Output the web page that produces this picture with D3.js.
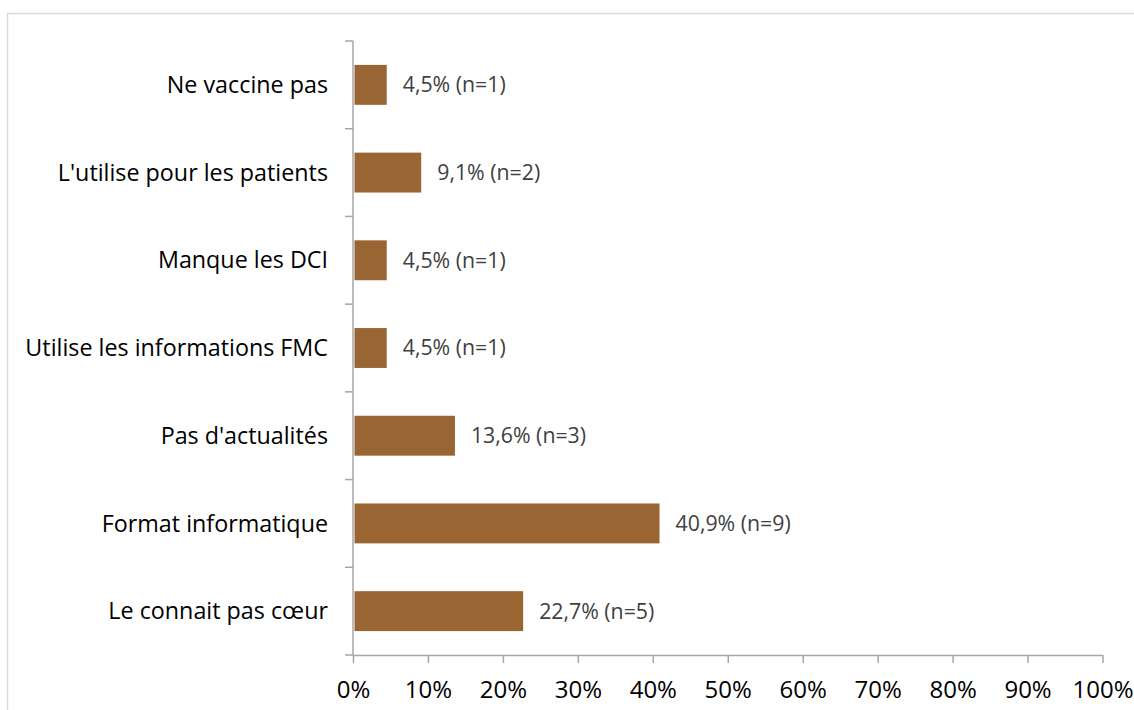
<!DOCTYPE html>
<html>
<head>
<meta charset="utf-8">
<script src="https://cdn.jsdelivr.net/npm/d3@7"></script>
<style>
  html, body { margin: 0; padding: 0; background: #fff; }
  svg { display: block; }
</style>
</head>
<body>
<svg id="chart" width="1134" height="710"></svg>
<script>
// Reasons given, top to bottom
const categories = [
  "Ne vaccine pas",
  "L'utilise pour les patients",
  "Manque les DCI",
  "Utilise les informations FMC",
  "Pas d'actualités",
  "Format informatique",
  "Le connait pas cœur"
];
const percentValues = [4.5, 9.1, 4.5, 4.5, 13.6, 40.9, 22.7];
const counts = [1, 2, 1, 1, 3, 9, 5];
const tickValues = [0, 10, 20, 30, 40, 50, 60, 70, 80, 90, 100];

const font = "'Open Sans', Lato, sans-serif";
const svg = d3.select("#chart");

// Outer chart frame
svg.append("path")
  .attr("d", "M7.5,710 V13.5 H1134")
  .attr("fill", "none")
  .attr("stroke", "#d9d9d9")
  .attr("stroke-width", 1.5);

const x = d3.scaleLinear().domain([0, 100]).range([353, 1102.5]);
const y = d3.scaleBand().domain(categories).range([41, 655]).paddingInner(0.545).paddingOuter(0.2725);

const axisColor = "#a6a6a6";

// Bars
svg.append("g").selectAll("rect")
  .data(categories)
  .join("rect")
  .attr("x", x(0) + 1.5)
  .attr("y", d => y(d))
  .attr("width", (d, i) => x(percentValues[i]) - x(0) - 1.5)
  .attr("height", y.bandwidth())
  .attr("fill", "#996633");

// Value labels
svg.append("g").selectAll("text")
  .data(categories)
  .join("text")
  .attr("x", (d, i) => x(percentValues[i]) + 16)
  .attr("y", d => y(d) + y.bandwidth() / 2)
  .attr("dy", "0.35em")
  .attr("font-family", font)
  .attr("font-size", 21.3)
  .attr("fill", "#404040")
  .text((d, i) => `${percentValues[i].toFixed(1).replace(".", ",")}% (n=${counts[i]})`);

// Vertical category axis: tick marks on band boundaries
const yAxisG = svg.append("g");
yAxisG.append("line")
  .attr("x1", x(0)).attr("x2", x(0))
  .attr("y1", 41).attr("y2", 655)
  .attr("stroke", axisColor).attr("stroke-width", 1.5);
const step = (655 - 41) / categories.length;
yAxisG.selectAll("line.tick")
  .data(d3.range(categories.length + 1))
  .join("line")
  .attr("class", "tick")
  .attr("x1", x(0) - 8).attr("x2", x(0))
  .attr("y1", i => 41 + i * step).attr("y2", i => 41 + i * step)
  .attr("stroke", axisColor).attr("stroke-width", 1.5);
yAxisG.selectAll("text")
  .data(categories)
  .join("text")
  .attr("x", 328)
  .attr("y", d => y(d) + y.bandwidth() / 2)
  .attr("dy", "0.35em")
  .attr("text-anchor", "end")
  .attr("font-family", font)
  .attr("font-size", 23.3)
  .attr("fill", "#000")
  .text(d => d);

// Horizontal percentage axis
const xAxis = d3.axisBottom(x)
  .tickValues(tickValues)
  .tickSize(8)
  .tickSizeOuter(0)
  .tickPadding(18)
  .tickFormat(d => d + "%");
const xg = svg.append("g")
  .attr("transform", "translate(0,655)")
  .call(xAxis);
xg.select(".domain").attr("stroke", axisColor).attr("stroke-width", 1.5);
xg.selectAll(".tick line").attr("stroke", axisColor).attr("stroke-width", 1.5);
xg.selectAll(".tick text")
  .attr("font-family", font)
  .attr("font-size", 24)
  .attr("fill", "#000");
</script>
</body>
</html>
